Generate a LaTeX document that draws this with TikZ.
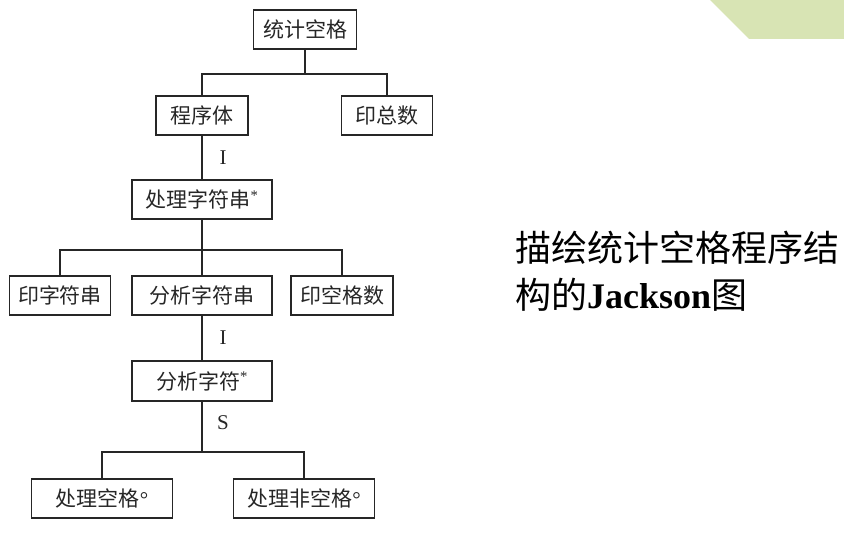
\documentclass[tikz,border=0pt]{standalone}
\usepackage{fontspec}
\setmainfont{Liberation Serif}
\newfontfamily\cjk{Noto Sans CJK SC}
\definecolor{lgreen}{HTML}{D8E4B4}
\definecolor{ink}{HTML}{262626}
\begin{document}
\begin{tikzpicture}[x=1pt,y=-1pt,
  box/.style={draw=ink, line width=1.3pt, minimum height=39pt, inner sep=0pt, text=ink,
    font=\fontsize{21}{21}\selectfont\cjk},
  conn/.style={draw=ink, line width=1.3pt},
  lab/.style={font=\fontsize{21}{21}\selectfont, text=ink, inner sep=0pt}]
\useasboundingbox (0,0) rectangle (844,540);
\fill[lgreen] (710,0) -- (844,0) -- (844,39) -- (749,39) -- cycle;

\node[box, minimum width=103pt] (root) at (305,29.5) {统计空格};
\node[box, minimum width=92pt] (prog) at (202,115.5) {程序体};
\node[box, minimum width=91pt] (total) at (387,115.5) {印总数};
\node[box, minimum width=140pt] (proc) at (202,199.5) {处理字符串{\rmfamily\textsuperscript{*}}};
\node[box, minimum width=101pt] (pstr) at (60,295.5) {印字符串};
\node[box, minimum width=140pt] (anal) at (202,295.5) {分析字符串};
\node[box, minimum width=102pt] (psp) at (342,295.5) {印空格数};
\node[box, minimum width=140pt, minimum height=40pt] (ach) at (202,381) {分析字符{\rmfamily\textsuperscript{*}}};
\node[box, minimum width=141pt] (sp) at (102,498.5) {处理空格{\rmfamily°}};
\node[box, minimum width=141pt] (nsp) at (304,498.5) {处理非空格{\rmfamily°}};

\node[lab] (l1) at (223,158) {I};
\node[lab] (l2) at (223,338) {I};
\node[lab] (l3) at (223,423) {S};

\coordinate (b1) at (305,74);
\coordinate (b2) at (202,250);
\coordinate (b3) at (202,452);

\draw[conn] (root.south) -- (b1);
\draw[conn] (prog.north) |- (b1) -| (total.north);
\draw[conn] (prog.south) -- (proc.north);
\draw[conn] (proc.south) -- (anal.north);
\draw[conn] (pstr.north) |- (b2) -| (psp.north);
\draw[conn] (anal.south) -- (ach.north);
\draw[conn] (ach.south) -- (b3);
\draw[conn] (sp.north) |- (b3) -| (nsp.north);

\node[anchor=north west, align=left, inner sep=0pt, text=black,
  font=\fontsize{36}{47}\selectfont] (title) at (515,231)
  {{\cjk 描绘统计空格程序结}\\{\cjk 构的}\textbf{Jackson}{\cjk 图}};
\end{tikzpicture}
\end{document}
